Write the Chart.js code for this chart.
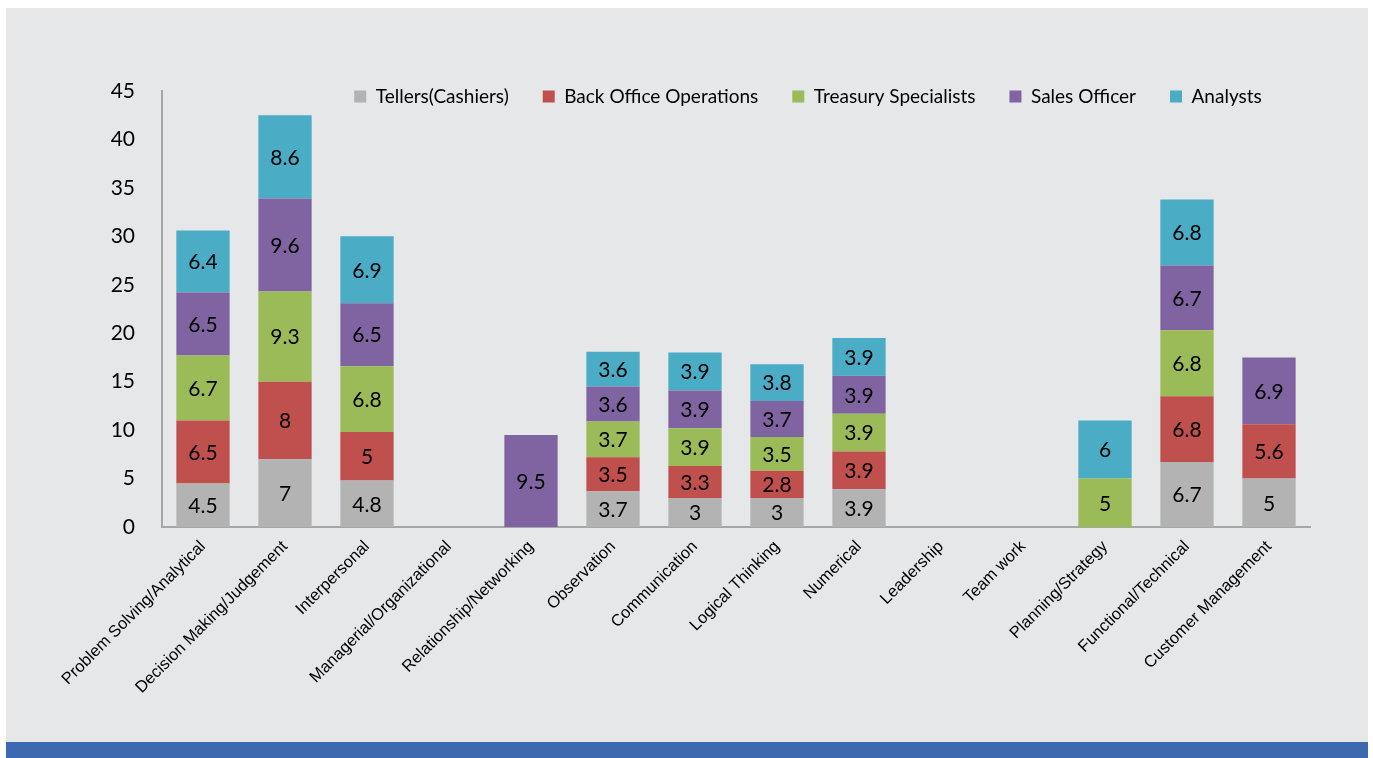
<!DOCTYPE html>
<html>
<head>
<meta charset="utf-8">
<script src="https://cdn.jsdelivr.net/npm/chart.js@4.4.1/dist/chart.umd.min.js"></script>
<style>
  body { margin: 0; background: #fff; }
  #panel { position: absolute; left: 6px; top: 8px; width: 1362px; height: 734px; background: #e6e7e8; }
  #band { position: absolute; left: 6px; top: 742px; width: 1362px; height: 16px; background: #3c69b0; }
</style>
</head>
<body>
<div id="panel"><canvas id="chart1"></canvas></div>
<div id="band"></div>
<script>
const categories = ["Problem Solving/Analytical", "Decision Making/Judgement", "Interpersonal",
  "Managerial/Organizational", "Relationship/Networking", "Observation", "Communication",
  "Logical Thinking", "Numerical", "Leadership", "Team work", "Planning/Strategy",
  "Functional/Technical", "Customer Management"];

const tellers    = [4.5, 7,   4.8, null, null, 3.7, 3,   3,   3.9, null, null, null, 6.7, 5];
const backOffice = [6.5, 8,   5,   null, null, 3.5, 3.3, 2.8, 3.9, null, null, null, 6.8, 5.6];
const treasury   = [6.7, 9.3, 6.8, null, null, 3.7, 3.9, 3.5, 3.9, null, null, 5,    6.8, null];
const sales      = [6.5, 9.6, 6.5, null, 9.5,  3.6, 3.9, 3.7, 3.9, null, null, null, 6.7, 6.9];
const analysts   = [6.4, 8.6, 6.9, null, null, 3.6, 3.9, 3.8, 3.9, null, null, 6,    6.8, null];

const yTicks = [0, 5, 10, 15, 20, 25, 30, 35, 40, 45];

// values written in the middle of each segment
const valueLabels = {
  id: 'valueLabels',
  afterDatasetsDraw(chart) {
    const ctx = chart.ctx;
    ctx.save();
    ctx.font = '21px Lato';
    ctx.fillStyle = '#000';
    ctx.textAlign = 'center';
    ctx.textBaseline = 'middle';
    chart.data.datasets.forEach((ds, i) => {
      chart.getDatasetMeta(i).data.forEach((bar, j) => {
        const v = ds.data[j];
        if (v == null) return;
        const c = bar.getCenterPoint();
        ctx.fillText(v, c.x, c.y + 1);
      });
    });
    ctx.restore();
  }
};

// legend row sits right of the plot's middle, level with the top tick
const moveLegend = {
  id: 'moveLegend',
  afterUpdate(chart) {
    const lg = chart.legend;
    lg.left += 72; lg.right += 72;
    lg.top += 25; lg.bottom += 25;
  }
};

const canvas = document.getElementById("chart1");

new Chart(canvas, {
  type: 'bar',
  data: {
    labels: categories,
    datasets: [
      { label: 'Tellers(Cashiers)', data: tellers, backgroundColor: '#b3b3b3' },
      { label: 'Back Office Operations', data: backOffice, backgroundColor: '#c0504d' },
      { label: 'Treasury Specialists', data: treasury, backgroundColor: '#9bbb59' },
      { label: 'Sales Officer', data: sales, backgroundColor: '#8064a2' },
      { label: 'Analysts', data: analysts, backgroundColor: '#4bacc6' }
    ]
  },
  options: {
    responsive: true,
    maintainAspectRatio: false,
    animation: false,
    layout: { padding: { top: 20, right: 58, left: 0, bottom: 0 } },
    datasets: { bar: { categoryPercentage: 1, barPercentage: 0.65, borderWidth: 0 } },
    plugins: {
      legend: {
        position: 'top',
        align: 'center',
        fullSize: false,
        maxHeight: 74,
        labels: {
          boxWidth: 12,
          boxHeight: 12,
          padding: 34,
          color: '#000',
          font: { family: 'Lato', size: 19 }
        }
      },
      tooltip: { enabled: false }
    },
    scales: {
      x: {
        stacked: true,
        grid: { display: false, drawTicks: false },
        border: { display: true, color: '#a6a6a6', width: 2 },
        afterFit(scale) { scale.height = 215; },
        ticks: {
          autoSkip: false,
          maxRotation: 45,
          minRotation: 45,
          padding: 10,
          color: '#000',
          font: { family: 'Liberation Sans', size: 16.5 }
        }
      },
      y: {
        stacked: true,
        min: 0,
        max: 45,
        grid: { display: false, drawTicks: false },
        border: { display: true, color: '#a6a6a6', width: 2 },
        afterFit(scale) { scale.width = 156; },
        afterBuildTicks(scale) { scale.ticks = yTicks.map(v => ({ value: v })); },
        ticks: {
          padding: 27,
          color: '#000',
          font: { family: 'Lato', size: 21 }
        }
      }
    }
  },
  plugins: [valueLabels, moveLegend]
});
</script>
</body>
</html>
